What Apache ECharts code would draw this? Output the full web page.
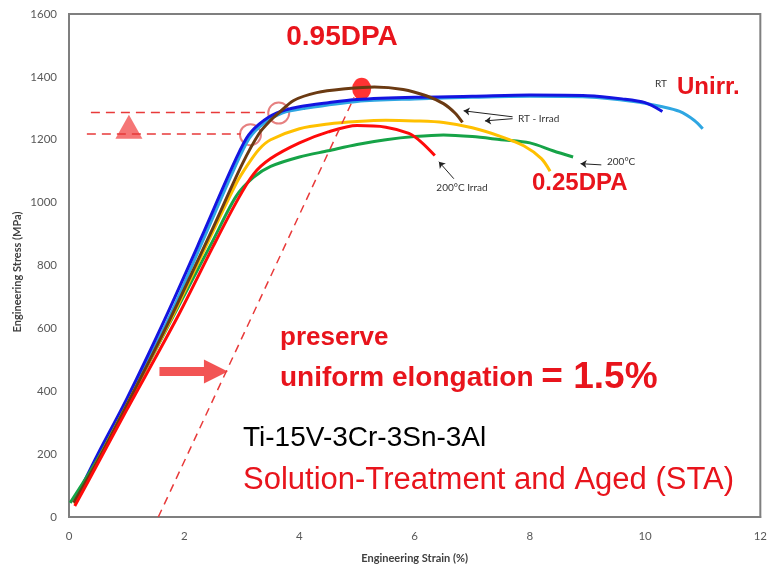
<!DOCTYPE html>
<html>
<head>
<meta charset="utf-8">
<title>Ti-15V-3Cr-3Sn-3Al stress-strain</title>
<script src="https://cdn.jsdelivr.net/npm/echarts@6/dist/echarts.min.js"></script>
<style>
html, body { margin: 0; padding: 0; background: #fff; }
#chart { width: 770px; height: 569px; }
</style>
</head>
<body>
<div id="chart"></div>
<script>
// axis ticks
var strainTicks = [0, 2, 4, 6, 8, 10, 12];
var stressTicks = [0, 200, 400, 600, 800, 1000, 1200, 1400, 1600];

// curves, [strain %, stress MPa]
var rtUnirrLight = [[0.1,55],[0.5,190],[1.0,365],[1.72,628],[2.35,890],[2.85,1100],[3.13,1205],[3.4,1255],[3.7,1285],[4.1,1300],[5.0,1322],[6.0,1330],[7.0,1335],[8.0,1338],[9.0,1336],[9.8,1322],[10.3,1305],[10.6,1290],[10.85,1262],[11.0,1235]];
var rtUnirr = [[0.15,70],[0.5,200],[1.0,375],[1.66,628],[2.3,890],[2.8,1100],[3.08,1205],[3.3,1250],[3.6,1285],[4.0,1305],[4.5,1318],[5.0,1328],[6.0,1335],[7.0,1338],[8.0,1342],[9.0,1340],[9.6,1330],[10.0,1318],[10.3,1290]];
var rtIrrad = [[0.08,45],[0.5,180],[1.0,355],[1.75,628],[2.5,920],[3.0,1120],[3.3,1220],[3.5,1262],[3.64,1285],[3.9,1325],[4.3,1350],[4.8,1362],[5.3,1368],[5.8,1360],[6.2,1340],[6.5,1315],[6.7,1285],[6.83,1255]];
var hotUnirr = [[0.02,45],[0.5,185],[1.0,355],[1.8,635],[2.5,880],[2.9,1020],[3.2,1080],[3.5,1115],[4.0,1145],[4.5,1165],[5.0,1185],[5.5,1200],[6.0,1210],[6.5,1215],[7.0,1210],[7.5,1200],[8.0,1190],[8.4,1165],[8.75,1145]];
var rtIrradLow = [[0.1,40],[0.5,180],[1.0,355],[1.8,640],[2.4,870],[2.9,1060],[3.1,1120],[3.3,1170],[3.5,1200],[4.0,1235],[4.5,1250],[5.0,1258],[5.5,1262],[6.0,1260],[6.5,1255],[7.0,1238],[7.5,1210],[7.9,1180],[8.2,1140],[8.35,1100]];
var hotIrrad = [[0.1,35],[0.5,170],[1.0,340],[1.86,628],[2.5,860],[2.9,1000],[3.2,1090],[3.5,1140],[4.0,1190],[4.5,1225],[5.0,1245],[5.5,1240],[5.9,1220],[6.1,1195],[6.35,1150]];

// guides and markers
var yieldUpper = [[0.38,1287],[3.47,1287]];
var yieldLower = [[0.31,1218],[2.98,1218]];
var offsetLine = [[1.55,0],[4.95,1335]];
var yieldPoints = [[3.15,1216],[3.64,1285]];
var peakPoint = [[5.08,1362]];
var riseMark = [[1.04,1241]];
var shiftArrow = [[1.57,463],[2.55,463]];
var noteArrows = [
    [[7.7,1273],[6.85,1292]],
    [[7.7,1267],[7.22,1260]],
    [[9.24,1120],[8.88,1124]],
    [[6.68,1076],[6.42,1130]]
];

var red = '#e8141c';
var myChart = echarts.init(document.getElementById('chart'));

function curve(data, color, width) {
    return {
        type: 'line',
        data: data,
        showSymbol: false,
        smooth: 0.3,
        silent: true,
        lineStyle: { color: color, width: width || 3 },
        itemStyle: { color: color }
    };
}

function dashed(data, width, dash) {
    return {
        type: 'line',
        data: data,
        showSymbol: false,
        silent: true,
        lineStyle: { color: '#e83a3a', width: width, type: dash }
    };
}

function txt(x, y, str, font, color, align) {
    return {
        type: 'text',
        x: x,
        y: y,
        silent: true,
        style: {
            text: str,
            font: font,
            fill: color,
            align: align || 'left',
            verticalAlign: 'middle'
        }
    };
}

function plain(v) {
    return String(v);
}

myChart.setOption({
    animation: false,
    grid: { left: 69, right: 7, top: 14, bottom: 51, show: true, borderColor: '#7f7f7f', borderWidth: 2 },
    xAxis: {
        type: 'value',
        min: strainTicks[0],
        max: strainTicks[strainTicks.length - 1],
        interval: strainTicks[1] - strainTicks[0],
        name: 'Engineering Strain (%)',
        nameLocation: 'middle',
        nameGap: 36,
        nameTextStyle: { fontFamily: 'Lato', fontWeight: 'bold', fontSize: 11, color: '#404040' },
        axisLine: { lineStyle: { color: '#7f7f7f', width: 2 } },
        axisTick: { show: false },
        splitLine: { show: false },
        axisLabel: { fontFamily: 'Lato', fontSize: 11.5, color: '#595959', margin: 13, showMaxLabel: true, formatter: plain }
    },
    yAxis: {
        type: 'value',
        min: stressTicks[0],
        max: stressTicks[stressTicks.length - 1],
        interval: stressTicks[1] - stressTicks[0],
        axisLine: { show: true, lineStyle: { color: '#7f7f7f', width: 2 } },
        axisTick: { show: false },
        splitLine: { show: false },
        axisLabel: { fontFamily: 'Lato', fontSize: 11.5, color: '#595959', margin: 12, showMaxLabel: true, formatter: plain }
    },
    graphic: [
        {
            type: 'text', x: 17, y: 272, rotation: Math.PI / 2, silent: true,
            style: { text: 'Engineering Stress (MPa)', font: 'bold 11px Lato', fill: '#404040', align: 'center', verticalAlign: 'middle' }
        },
        txt(342, 37, '0.95DPA', 'bold 28px "Liberation Sans"', red, 'center'),
        txt(661, 84, 'RT', '10px Lato', '#333', 'center'),
        txt(677, 87, 'Unirr.', 'bold 24px "Liberation Sans"', red),
        txt(518, 119, 'RT - Irrad', '10px Lato', '#333'),
        txt(607, 162, '200°C', '10px Lato', '#333'),
        txt(462, 188, '200°C Irrad', '10px Lato', '#333', 'center'),
        txt(532, 183, '0.25DPA', 'bold 24px "Liberation Sans"', red),
        txt(280, 338, 'preserve', 'bold 26px "Liberation Sans"', red),
        {
            type: 'text', x: 280, y: 378, silent: true,
            style: {
                text: '{a|uniform elongation }{b|= 1.5%}',
                verticalAlign: 'middle',
                rich: {
                    a: { font: 'bold 28px "Liberation Sans"', fill: red },
                    b: { font: 'bold 37px "Liberation Sans"', fill: red }
                }
            }
        },
        txt(243, 438, 'Ti-15V-3Cr-3Sn-3Al', '28px "Liberation Sans"', '#000'),
        txt(243, 480, 'Solution-Treatment and Aged (STA)', '31px "Liberation Sans"', red)
    ],
    series: [
        curve(rtUnirrLight, '#2ea6e2'),
        curve(rtUnirr, '#1414e0'),
        curve(hotUnirr, '#16a347'),
        curve(rtIrradLow, '#ffc000'),
        curve(rtIrrad, '#6b3a12'),
        curve(hotIrrad, '#ff0a0a'),
        dashed(yieldUpper, 1.5, [9, 6]),
        dashed(yieldLower, 1.5, [9, 6]),
        dashed(offsetLine, 1.5, [8, 6]),
        {
            type: 'scatter', data: yieldPoints, symbol: 'circle', symbolSize: 21, silent: true,
            itemStyle: { color: 'rgba(0,0,0,0)', borderColor: '#e06060', borderWidth: 2 }
        },
        {
            type: 'scatter', data: peakPoint, symbol: 'circle', symbolSize: [19, 22], silent: true,
            itemStyle: { color: '#ff0000' }
        },
        {
            type: 'scatter', data: riseMark, symbol: 'triangle', symbolSize: [27, 24], silent: true,
            itemStyle: { color: '#f25454' }
        },
        {
            type: 'lines', coordinateSystem: 'cartesian2d', silent: true,
            data: [{ coords: shiftArrow }],
            symbol: ['none', 'triangle'], symbolSize: 24,
            lineStyle: { color: '#f25454', width: 9, opacity: 1 }
        },
        {
            type: 'lines', coordinateSystem: 'cartesian2d', silent: true,
            data: noteArrows.map(function (c) { return { coords: c }; }),
            symbol: ['none', 'arrow'], symbolSize: 6,
            lineStyle: { color: '#222', width: 1, opacity: 1 }
        }
    ]
});

window.addEventListener('resize', function () {
    myChart.resize();
});
</script>
</body>
</html>
